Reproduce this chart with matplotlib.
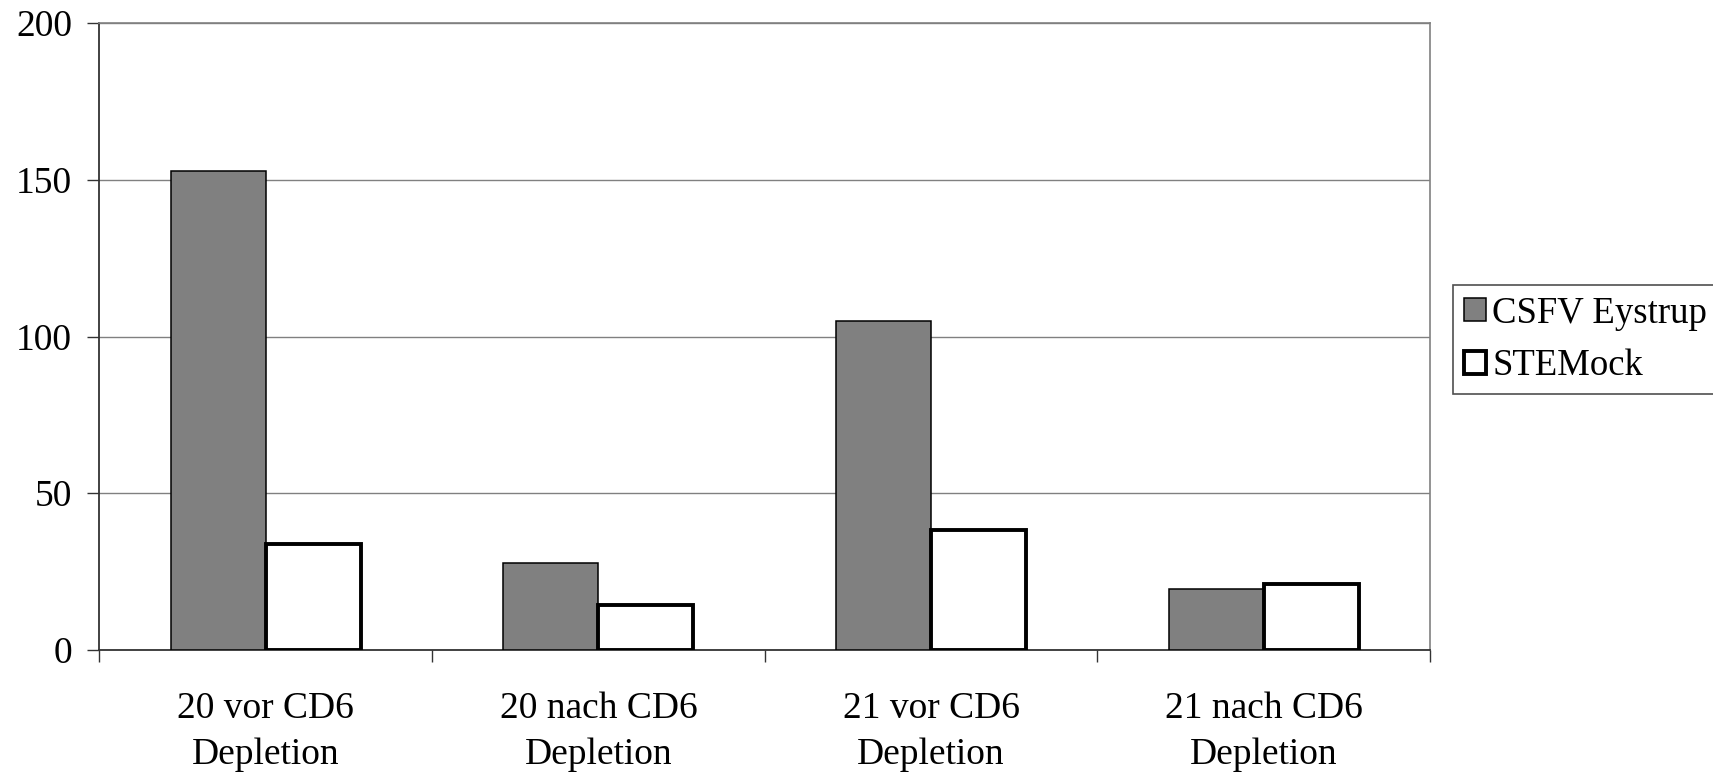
import matplotlib
matplotlib.use("Agg")
import matplotlib.pyplot as plt
import numpy as np

categories = ["20 vor CD6\nDepletion", "20 nach CD6\nDepletion",
              "21 vor CD6\nDepletion", "21 nach CD6\nDepletion"]
csfv_eystrup = [152.7, 27.8, 105.1, 19.6]
stemock = [33.7, 14.2, 38.2, 21.2]
series_names = ["CSFV Eystrup", "STEMock"]
y_ticks = [0, 50, 100, 150, 200]

plt.rcParams['font.family'] = ['Liberation Serif', 'DejaVu Serif']

fig = plt.figure(figsize=(17.13, 7.72), dpi=100)
ax = fig.add_axes([99.4/1713, 1-650/772, (1430-99.4)/1713, (650-23)/772])

x = np.arange(len(categories))
w = 1/3.5
ax.bar(x - w/2, csfv_eystrup, w, color='#808080', edgecolor='black',
       linewidth=1.1, label=series_names[0], zorder=3)
ax.bar(x + w/2, stemock, w, color='white', edgecolor='black',
       linewidth=2.8, label=series_names[1], zorder=3)

ax.set_xlim(-0.5, len(categories) - 0.5)
ax.set_ylim(0, 200)
ax.set_yticks(y_ticks)
ax.set_yticklabels([str(v) for v in y_ticks], fontsize=27)
ax.yaxis.grid(True, color='#808080', linewidth=1.0, zorder=0)
ax.set_axisbelow(True)

ax.set_xticks(x)
ax.set_xticklabels(categories, fontsize=27, linespacing=1.43)
ax.set_xticks(np.arange(len(categories) + 1) - 0.5, minor=True)
ax.tick_params(axis='x', which='major', length=0, pad=30)
ax.tick_params(axis='x', which='minor', length=8.6, width=1.0, color='#333333', direction='out')
ax.tick_params(axis='y', length=8.6, width=1.0, color='#333333', direction='out', pad=11)

for s in ['left', 'bottom']:
    ax.spines[s].set_color('#333333')
    ax.spines[s].set_linewidth(1.3)
for s in ['top', 'right']:
    ax.spines[s].set_color('#808080')
    ax.spines[s].set_linewidth(1.2)

leg = fig.legend(loc='upper left', bbox_to_anchor=(1452.5/1713, 1-285/772),
                 fontsize=26.5, frameon=True, fancybox=False,
                 handlelength=0.6, handleheight=0.6, handletextpad=0.18,
                 borderpad=0.3, labelspacing=0.5, borderaxespad=0)
leg.get_frame().set_edgecolor('#222222')
leg.get_frame().set_linewidth(1.2)

fig.savefig("out.png", dpi=100)
